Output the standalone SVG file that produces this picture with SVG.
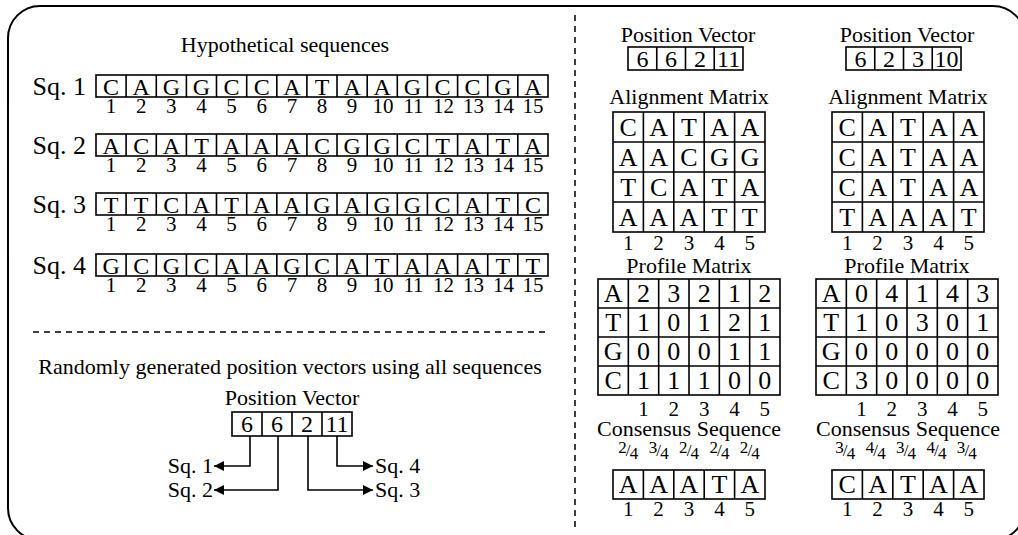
<svg xmlns="http://www.w3.org/2000/svg" width="1018" height="535" viewBox="0 0 1018 535">
  <style>
    text { font-family: "Liberation Serif", "Times New Roman", serif; fill: #000; text-anchor: middle; }
    .h { font-size: 22px; }
    .s { font-size: 24px; }
    .c { font-size: 26px; }
    .n { font-size: 21px; }
    .f { font-size: 17px; }
    .lab { font-size: 26px; text-anchor: end; }
    .lab2 { font-size: 22px; text-anchor: end; }
    .labs { font-size: 22px; text-anchor: start; }
    .box { fill: #fff; stroke: #000; stroke-width: 1.6; }
    .div { fill: none; stroke: #000; stroke-width: 1.6; }
    .dash { fill: none; stroke: #000; stroke-width: 1.5; stroke-dasharray: 6 5; }
    .wire { fill: none; stroke: #000; stroke-width: 1.6; }
  </style>
  <defs>
    <marker id="arrow" markerUnits="userSpaceOnUse" markerWidth="12" markerHeight="10" refX="10" refY="5" orient="auto">
      <path d="M0,0 L10,5 L0,10 z" fill="#000"/>
    </marker>
  </defs>

  <rect width="1018" height="535" fill="#fff"/>

  <!-- outer frame and section separators -->
  <rect x="8" y="6" width="1017" height="534" rx="32" fill="none" stroke="#000" stroke-width="2"/>
  <path class="dash" d="M33,332 H548"/>
  <path class="dash" d="M575,15 V530"/>

  <!-- left panel: input sequences -->
  <text class="h" x="285" y="52">Hypothetical sequences</text>

  <g id="sq1" transform="translate(0,75)">
    <text class="lab" x="86" y="19.5">Sq. 1</text>
    <rect class="box" x="96" y="0" width="452" height="22"/>
    <path class="div" d="M126.1 0v22M156.3 0v22M186.4 0v22M216.5 0v22M246.7 0v22M276.8 0v22M306.9 0v22M337 0v22M367.2 0v22M397.3 0v22M427.4 0v22M457.6 0v22M487.7 0v22M517.8 0v22"/>
    <text class="s" x="111.1 141.2 171.3 201.5 231.6 261.7 291.9 322 352.1 382.2 412.4 442.5 472.6 502.8 532.9" y="19.5">CAGGCCATAAGCCGA</text>
    <text class="n" y="38"><tspan x="111.1">1</tspan><tspan x="141.2">2</tspan><tspan x="171.3">3</tspan><tspan x="201.5">4</tspan><tspan x="231.6">5</tspan><tspan x="261.7">6</tspan><tspan x="291.9">7</tspan><tspan x="322">8</tspan><tspan x="352.1">9</tspan><tspan x="383">10</tspan><tspan x="413.5">11</tspan><tspan x="443.5">12</tspan><tspan x="473.5">13</tspan><tspan x="503.5">14</tspan><tspan x="533">15</tspan></text>
  </g>

  <g id="sq2" transform="translate(0,134)">
    <text class="lab" x="86" y="19.5">Sq. 2</text>
    <rect class="box" x="96" y="0" width="452" height="22"/>
    <path class="div" d="M126.1 0v22M156.3 0v22M186.4 0v22M216.5 0v22M246.7 0v22M276.8 0v22M306.9 0v22M337 0v22M367.2 0v22M397.3 0v22M427.4 0v22M457.6 0v22M487.7 0v22M517.8 0v22"/>
    <text class="s" x="111.1 141.2 171.3 201.5 231.6 261.7 291.9 322 352.1 382.2 412.4 442.5 472.6 502.8 532.9" y="19.5">ACATAAACGGCTATA</text>
    <text class="n" y="38"><tspan x="111.1">1</tspan><tspan x="141.2">2</tspan><tspan x="171.3">3</tspan><tspan x="201.5">4</tspan><tspan x="231.6">5</tspan><tspan x="261.7">6</tspan><tspan x="291.9">7</tspan><tspan x="322">8</tspan><tspan x="352.1">9</tspan><tspan x="383">10</tspan><tspan x="413.5">11</tspan><tspan x="443.5">12</tspan><tspan x="473.5">13</tspan><tspan x="503.5">14</tspan><tspan x="533">15</tspan></text>
  </g>

  <g id="sq3" transform="translate(0,193)">
    <text class="lab" x="86" y="19.5">Sq. 3</text>
    <rect class="box" x="96" y="0" width="452" height="22"/>
    <path class="div" d="M126.1 0v22M156.3 0v22M186.4 0v22M216.5 0v22M246.7 0v22M276.8 0v22M306.9 0v22M337 0v22M367.2 0v22M397.3 0v22M427.4 0v22M457.6 0v22M487.7 0v22M517.8 0v22"/>
    <text class="s" x="111.1 141.2 171.3 201.5 231.6 261.7 291.9 322 352.1 382.2 412.4 442.5 472.6 502.8 532.9" y="19.5">TTCATAAGAGGCATC</text>
    <text class="n" y="38"><tspan x="111.1">1</tspan><tspan x="141.2">2</tspan><tspan x="171.3">3</tspan><tspan x="201.5">4</tspan><tspan x="231.6">5</tspan><tspan x="261.7">6</tspan><tspan x="291.9">7</tspan><tspan x="322">8</tspan><tspan x="352.1">9</tspan><tspan x="383">10</tspan><tspan x="413.5">11</tspan><tspan x="443.5">12</tspan><tspan x="473.5">13</tspan><tspan x="503.5">14</tspan><tspan x="533">15</tspan></text>
  </g>

  <g id="sq4" transform="translate(0,254)">
    <text class="lab" x="86" y="19.5">Sq. 4</text>
    <rect class="box" x="96" y="0" width="452" height="22"/>
    <path class="div" d="M126.1 0v22M156.3 0v22M186.4 0v22M216.5 0v22M246.7 0v22M276.8 0v22M306.9 0v22M337 0v22M367.2 0v22M397.3 0v22M427.4 0v22M457.6 0v22M487.7 0v22M517.8 0v22"/>
    <text class="s" x="111.1 141.2 171.3 201.5 231.6 261.7 291.9 322 352.1 382.2 412.4 442.5 472.6 502.8 532.9" y="19.5">GCGCAAGCATAAATT</text>
    <text class="n" y="38"><tspan x="111.1">1</tspan><tspan x="141.2">2</tspan><tspan x="171.3">3</tspan><tspan x="201.5">4</tspan><tspan x="231.6">5</tspan><tspan x="261.7">6</tspan><tspan x="291.9">7</tspan><tspan x="322">8</tspan><tspan x="352.1">9</tspan><tspan x="383">10</tspan><tspan x="413.5">11</tspan><tspan x="443.5">12</tspan><tspan x="473.5">13</tspan><tspan x="503.5">14</tspan><tspan x="533">15</tspan></text>
  </g>

  <!-- left panel: random position vector -->
  <text class="h" x="290" y="374">Randomly generated position vectors using all sequences</text>

  <g id="pv0">
    <text class="h" x="292" y="405">Position Vector</text>
    <rect class="box" x="232" y="412" width="120" height="24"/>
    <path class="div" d="M262 412v24M292 412v24M322 412v24"/>
    <text class="s" y="432"><tspan x="247">6</tspan><tspan x="277">6</tspan><tspan x="307">2</tspan><tspan x="337">11</tspan></text>
  </g>

  <g id="targets">
    <text class="lab2" x="213" y="473">Sq. 1</text>
    <text class="lab2" x="213" y="497">Sq. 2</text>
    <text class="labs" x="375" y="497">Sq. 3</text>
    <text class="labs" x="375" y="473">Sq. 4</text>
  </g>

  <g id="connectors">
    <path class="wire" d="M250,436 V466 H214" marker-end="url(#arrow)"/>
    <path class="wire" d="M278,436 V490 H214" marker-end="url(#arrow)"/>
    <path class="wire" d="M308,436 V490 H373" marker-end="url(#arrow)"/>
    <path class="wire" d="M337,436 V466 H373" marker-end="url(#arrow)"/>
  </g>

  <!-- right panel, first column -->
  <g id="pv1">
    <text class="h" x="688" y="42">Position Vector</text>
    <rect class="box" x="628" y="47" width="115" height="23"/>
    <path class="div" d="M656.75 47v23M685.5 47v23M714.25 47v23"/>
    <text class="s" y="67"><tspan x="642.4">6</tspan><tspan x="671.1">6</tspan><tspan x="699.9">2</tspan><tspan x="728.6">11</tspan></text>
  </g>

  <g id="align1" transform="translate(613,112)">
    <text class="h" x="76" y="-8">Alignment Matrix</text>
    <rect class="box" x="0" y="0" width="152" height="120"/>
    <path class="div" d="M30.4 0v120M60.8 0v120M91.2 0v120M121.6 0v120M0 30h152M0 60h152M0 90h152"/>
    <text class="c" x="15.2 45.6 76 106.4 136.8" y="24">CATAA</text>
    <text class="c" x="15.2 45.6 76 106.4 136.8" y="54">AACGG</text>
    <text class="c" x="15.2 45.6 76 106.4 136.8" y="84">TCATA</text>
    <text class="c" x="15.2 45.6 76 106.4 136.8" y="114">AAATT</text>
    <text class="n" x="15.2 45.6 76 106.4 136.8" y="138">12345</text>
  </g>

  <g id="profile1" transform="translate(598,279)">
    <text class="h" x="91" y="-6">Profile Matrix</text>
    <rect class="box" x="0" y="0" width="182" height="116"/>
    <path class="div" d="M30.33 0v116M60.67 0v116M91 0v116M121.33 0v116M151.67 0v116M0 29h182M0 58h182M0 87h182"/>
    <text class="c" x="15.17 45.5 75.83 106.17 136.5 166.83" y="23">A23212</text>
    <text class="c" x="15.17 45.5 75.83 106.17 136.5 166.83" y="52">T10121</text>
    <text class="c" x="15.17 45.5 75.83 106.17 136.5 166.83" y="81">G00011</text>
    <text class="c" x="15.17 45.5 75.83 106.17 136.5 166.83" y="110">C11100</text>
    <text class="n" x="45.5 75.83 106.17 136.5 166.83" y="137">12345</text>
  </g>

  <g id="consensus1" transform="translate(613,470)">
    <text class="h" x="76" y="-34">Consensus Sequence</text>
    <text class="f"><tspan x="9.5" y="-17">2</tspan><tspan x="15.2" y="-14">/</tspan><tspan x="21" y="-11">4</tspan></text>
    <text class="f"><tspan x="39.9" y="-17">3</tspan><tspan x="45.6" y="-14">/</tspan><tspan x="51.4" y="-11">4</tspan></text>
    <text class="f"><tspan x="70.3" y="-17">2</tspan><tspan x="76" y="-14">/</tspan><tspan x="81.8" y="-11">4</tspan></text>
    <text class="f"><tspan x="100.7" y="-17">2</tspan><tspan x="106.4" y="-14">/</tspan><tspan x="112.2" y="-11">4</tspan></text>
    <text class="f"><tspan x="131.1" y="-17">2</tspan><tspan x="136.8" y="-14">/</tspan><tspan x="142.6" y="-11">4</tspan></text>
    <rect class="box" x="0" y="0" width="152" height="29"/>
    <path class="div" d="M30.4 0v29M60.8 0v29M91.2 0v29M121.6 0v29"/>
    <text class="c" x="15.2 45.6 76 106.4 136.8" y="23">AAATA</text>
    <text class="n" x="15.2 45.6 76 106.4 136.8" y="46">12345</text>
  </g>

  <!-- right panel, second column -->
  <g id="pv2">
    <text class="h" x="907" y="42">Position Vector</text>
    <rect class="box" x="846" y="47" width="115" height="23"/>
    <path class="div" d="M874.75 47v23M903.5 47v23M932.25 47v23"/>
    <text class="s" y="67"><tspan x="860.4">6</tspan><tspan x="889.1">2</tspan><tspan x="917.9">3</tspan><tspan x="946.6">10</tspan></text>
  </g>

  <g id="align2" transform="translate(832,112)">
    <text class="h" x="76" y="-8">Alignment Matrix</text>
    <rect class="box" x="0" y="0" width="152" height="120"/>
    <path class="div" d="M30.4 0v120M60.8 0v120M91.2 0v120M121.6 0v120M0 30h152M0 60h152M0 90h152"/>
    <text class="c" x="15.2 45.6 76 106.4 136.8" y="24">CATAA</text>
    <text class="c" x="15.2 45.6 76 106.4 136.8" y="54">CATAA</text>
    <text class="c" x="15.2 45.6 76 106.4 136.8" y="84">CATAA</text>
    <text class="c" x="15.2 45.6 76 106.4 136.8" y="114">TAAAT</text>
    <text class="n" x="15.2 45.6 76 106.4 136.8" y="138">12345</text>
  </g>

  <g id="profile2" transform="translate(816,279)">
    <text class="h" x="91" y="-6">Profile Matrix</text>
    <rect class="box" x="0" y="0" width="182" height="116"/>
    <path class="div" d="M30.33 0v116M60.67 0v116M91 0v116M121.33 0v116M151.67 0v116M0 29h182M0 58h182M0 87h182"/>
    <text class="c" x="15.17 45.5 75.83 106.17 136.5 166.83" y="23">A04143</text>
    <text class="c" x="15.17 45.5 75.83 106.17 136.5 166.83" y="52">T10301</text>
    <text class="c" x="15.17 45.5 75.83 106.17 136.5 166.83" y="81">G00000</text>
    <text class="c" x="15.17 45.5 75.83 106.17 136.5 166.83" y="110">C30000</text>
    <text class="n" x="45.5 75.83 106.17 136.5 166.83" y="137">12345</text>
  </g>

  <g id="consensus2" transform="translate(832,470)">
    <text class="h" x="76" y="-34">Consensus Sequence</text>
    <text class="f"><tspan x="7.5" y="-17">3</tspan><tspan x="13.2" y="-14">/</tspan><tspan x="19" y="-11">4</tspan></text>
    <text class="f"><tspan x="37.9" y="-17">4</tspan><tspan x="43.6" y="-14">/</tspan><tspan x="49.4" y="-11">4</tspan></text>
    <text class="f"><tspan x="68.3" y="-17">3</tspan><tspan x="74" y="-14">/</tspan><tspan x="79.8" y="-11">4</tspan></text>
    <text class="f"><tspan x="98.7" y="-17">4</tspan><tspan x="104.4" y="-14">/</tspan><tspan x="110.2" y="-11">4</tspan></text>
    <text class="f"><tspan x="129.1" y="-17">3</tspan><tspan x="134.8" y="-14">/</tspan><tspan x="140.6" y="-11">4</tspan></text>
    <rect class="box" x="0" y="0" width="152" height="29"/>
    <path class="div" d="M30.4 0v29M60.8 0v29M91.2 0v29M121.6 0v29"/>
    <text class="c" x="15.2 45.6 76 106.4 136.8" y="23">CATAA</text>
    <text class="n" x="15.2 45.6 76 106.4 136.8" y="46">12345</text>
  </g>
</svg>
